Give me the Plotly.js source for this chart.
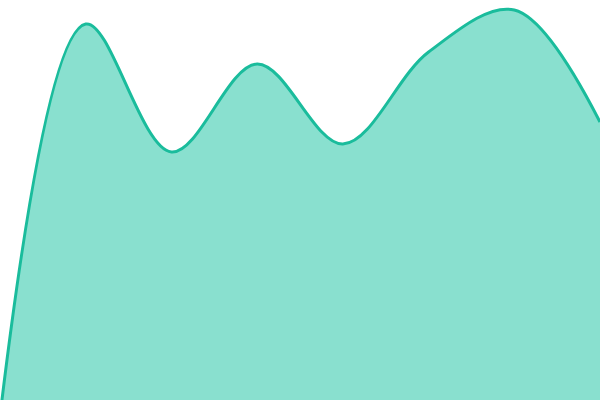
<!DOCTYPE html>
<html>
<head>
<meta charset="utf-8">
<script src="https://cdn.plot.ly/plotly-3.0.1.min.js"></script>
<style>
  html, body { margin: 0; padding: 0; background: #fff; }
  #chart { width: 600px; height: 400px; }
</style>
</head>
<body>
<div id="chart"></div>
<script>
// Smooth filled area, no axes, edge to edge.
const steps  = [0, 1, 2, 3, 4, 5, 6, 7];
const values = [-4, 94, 62, 84, 64, 87, 97.5, 69.5];

const data = [{
  type: "scatter",
  mode: "lines",
  x: steps,
  y: values,
  fill: "tozeroy",
  fillcolor: "#89e0cf",
  line: { color: "#1abc9c", width: 3, shape: "spline", smoothing: 1 },
  hoverinfo: "skip",
}];

const layout = {
  width: 600,
  height: 400,
  margin: { l: 0, r: 0, t: 0, b: 0 },
  paper_bgcolor: "#ffffff",
  plot_bgcolor: "#ffffff",
  showlegend: false,
  xaxis: { visible: false, range: [0, 7], fixedrange: true },
  yaxis: { visible: false, range: [0, 100], fixedrange: true },
};

Plotly.newPlot("chart", data, layout, { displayModeBar: false, staticPlot: true });
</script>
</body>
</html>
